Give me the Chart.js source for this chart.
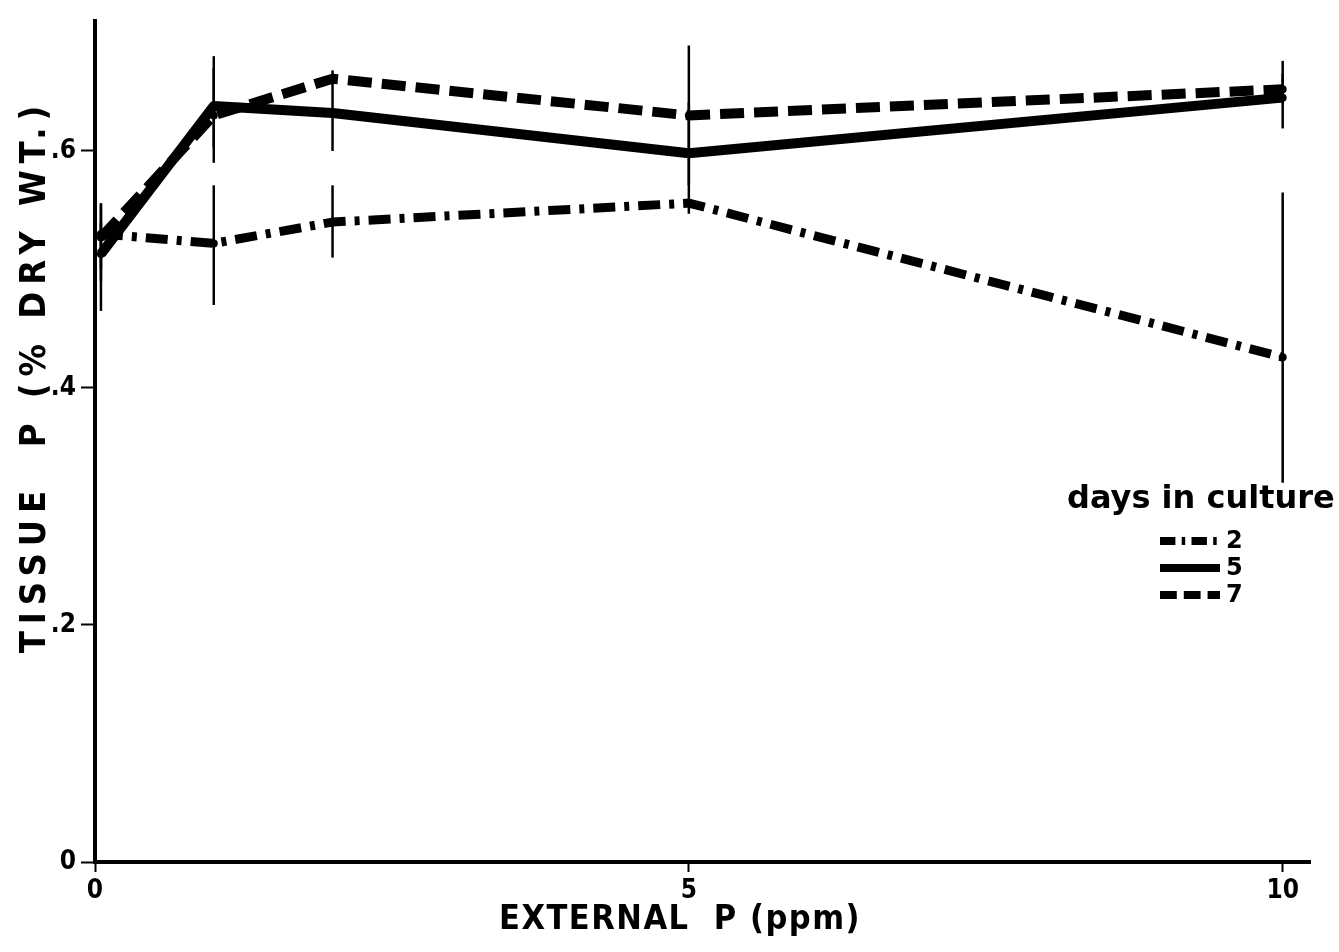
<!DOCTYPE html>
<html>
<head>
<meta charset="utf-8">
<script src="https://cdn.jsdelivr.net/npm/chart.js@4/dist/chart.umd.min.js"></script>
<style>
  html, body { margin: 0; padding: 0; background: #fff; }
  #wrap { width: 1339px; height: 952px; }
</style>
</head>
<body>
<div id="wrap"><canvas id="myChart" width="1339" height="952"></canvas></div>
<script>
// external P (ppm)
const externalP = [0.05, 1, 2, 5, 10];

// tissue P (% dry wt.) per days in culture
const day2 = [0.530, 0.522, 0.540, 0.556, 0.426];
const day5 = [0.513, 0.638, 0.632, 0.598, 0.645];
const day7 = [0.527, 0.630, 0.661, 0.630, 0.652];

// error bar ends (null = no bar visible)
const day2Low = [0.465, 0.470, 0.510, null, 0.320];
const day2High = [0.556, 0.571, 0.571, null, 0.565];
const day5Low = [0.490, 0.603, 0.600, 0.547, 0.619];
const day5High = [0.540, 0.680, 0.668, 0.641, 0.676];
const day7Low = [0.500, 0.590, null, 0.571, 0.640];
const day7High = [0.555, 0.670, null, 0.689, 0.665];

const xTicks = [0, 5, 10];
const yTicks = [0, 0.2, 0.4, 0.6];

const legendLabels = ["2", "5", "7"];
const dashes = [[22, 9, 5, 9], [], [24, 10]];

const axisFont = "'DejaVu Sans Condensed', 'Liberation Sans Narrow', 'DejaVu Sans', sans-serif";
const legendFont = "'DejaVu Sans', sans-serif";

function toPoints(values) {
  return externalP.map((x, i) => ({ x: x, y: values[i] }));
}

function makeDataset(label, values, low, high, dash, width) {
  return {
    label: label,
    data: toPoints(values),
    errLow: low,
    errHigh: high,
    borderColor: "#000",
    backgroundColor: "#000",
    borderWidth: width,
    borderDash: dash,
    borderCapStyle: "butt",
    borderJoinStyle: "round",
    pointRadius: 4,
    pointBackgroundColor: "#000",
    pointBorderWidth: 0,
    showLine: true,
    tension: 0,
  };
}

const errorBars = {
  id: "errorBars",
  afterDatasetsDraw(chart) {
    const ctx = chart.ctx;
    const xs = chart.scales.x;
    const ys = chart.scales.y;
    ctx.save();
    ctx.strokeStyle = "#000";
    ctx.lineWidth = 2.5;
    chart.data.datasets.forEach((ds) => {
      ds.data.forEach((p, i) => {
        if (ds.errLow[i] == null) return;
        const px = xs.getPixelForValue(p.x);
        ctx.beginPath();
        ctx.moveTo(px, ys.getPixelForValue(ds.errLow[i]));
        ctx.lineTo(px, ys.getPixelForValue(ds.errHigh[i]));
        ctx.stroke();
      });
    });
    ctx.restore();
  },
};

const decorations = {
  id: "decorations",
  afterDraw(chart) {
    const ctx = chart.ctx;
    ctx.save();
    ctx.fillStyle = "#000";

    // axis titles
    ctx.font = "bold 34px " + axisFont;
    ctx.textAlign = "center";
    ctx.textBaseline = "middle";
    ctx.letterSpacing = "1.5px";
    ctx.fillText("EXTERNAL  P (ppm)", 680, 920);

    ctx.save();
    ctx.translate(36, 376);
    ctx.rotate(-Math.PI / 2);
    ctx.font = "bold 36px " + axisFont;
    ctx.letterSpacing = "7px";
    ctx.fillText("TISSUE  P (% DRY WT.)", 0, 0);
    ctx.restore();
    ctx.letterSpacing = "0px";

    // legend
    ctx.textAlign = "left";
    ctx.textBaseline = "alphabetic";
    ctx.font = "bold 32px " + legendFont;
    ctx.fillText("days in culture", 1067, 508);

    const rowY = [541, 568, 595];
    ctx.strokeStyle = "#000";
    ctx.lineWidth = 8;
    ctx.lineCap = "butt";
    ctx.font = "bold 24px " + legendFont;
    ctx.textBaseline = "middle";
    legendLabels.forEach((lab, i) => {
      ctx.setLineDash(dashes[i].length ? dashes[i].map((d) => d * 0.7) : []);
      ctx.beginPath();
      ctx.moveTo(1160, rowY[i]);
      ctx.lineTo(1220, rowY[i]);
      ctx.stroke();
      ctx.fillText(lab, 1226, rowY[i] + 1);
    });
    ctx.restore();
  },
};

new Chart(document.getElementById("myChart"), {
  type: "scatter",
  data: {
    datasets: [
      makeDataset("2", day2, day2Low, day2High, dashes[0], 9),
      makeDataset("5", day5, day5Low, day5High, dashes[1], 10),
      makeDataset("7", day7, day7Low, day7High, dashes[2], 10),
    ],
  },
  options: {
    responsive: false,
    animation: false,
    layout: { padding: { top: 0, right: 29, left: 0, bottom: 0 } },
    scales: {
      x: {
        type: "linear",
        min: 0,
        max: 10.23,
        afterFit: (scale) => { scale.height = 90; },
        afterBuildTicks: (scale) => { scale.ticks = xTicks.map((v) => ({ value: v })); },
        grid: {
          drawOnChartArea: false,
          drawTicks: true,
          tickLength: 10,
          tickWidth: 2,
          color: "#000",
        },
        border: { display: true, color: "#000", width: 4 },
        ticks: {
          color: "#000",
          padding: 4,
          font: { family: axisFont, size: 26, weight: "bold" },
          callback: (v) => String(v),
        },
      },
      y: {
        type: "linear",
        min: 0,
        max: 0.71,
        afterFit: (scale) => { scale.width = 95; },
        afterBuildTicks: (scale) => { scale.ticks = yTicks.map((v) => ({ value: v })); },
        grid: {
          drawOnChartArea: false,
          drawTicks: true,
          tickLength: 14,
          tickWidth: 2,
          color: "#000",
        },
        border: { display: true, color: "#000", width: 4 },
        ticks: {
          color: "#000",
          padding: 5,
          font: { family: axisFont, size: 26, weight: "bold" },
          callback: (v) => (v === 0 ? "0" : "." + Math.round(v * 10)),
        },
      },
    },
    plugins: {
      legend: { display: false },
      tooltip: { enabled: false },
    },
  },
  plugins: [errorBars, decorations],
});
</script>
</body>
</html>
